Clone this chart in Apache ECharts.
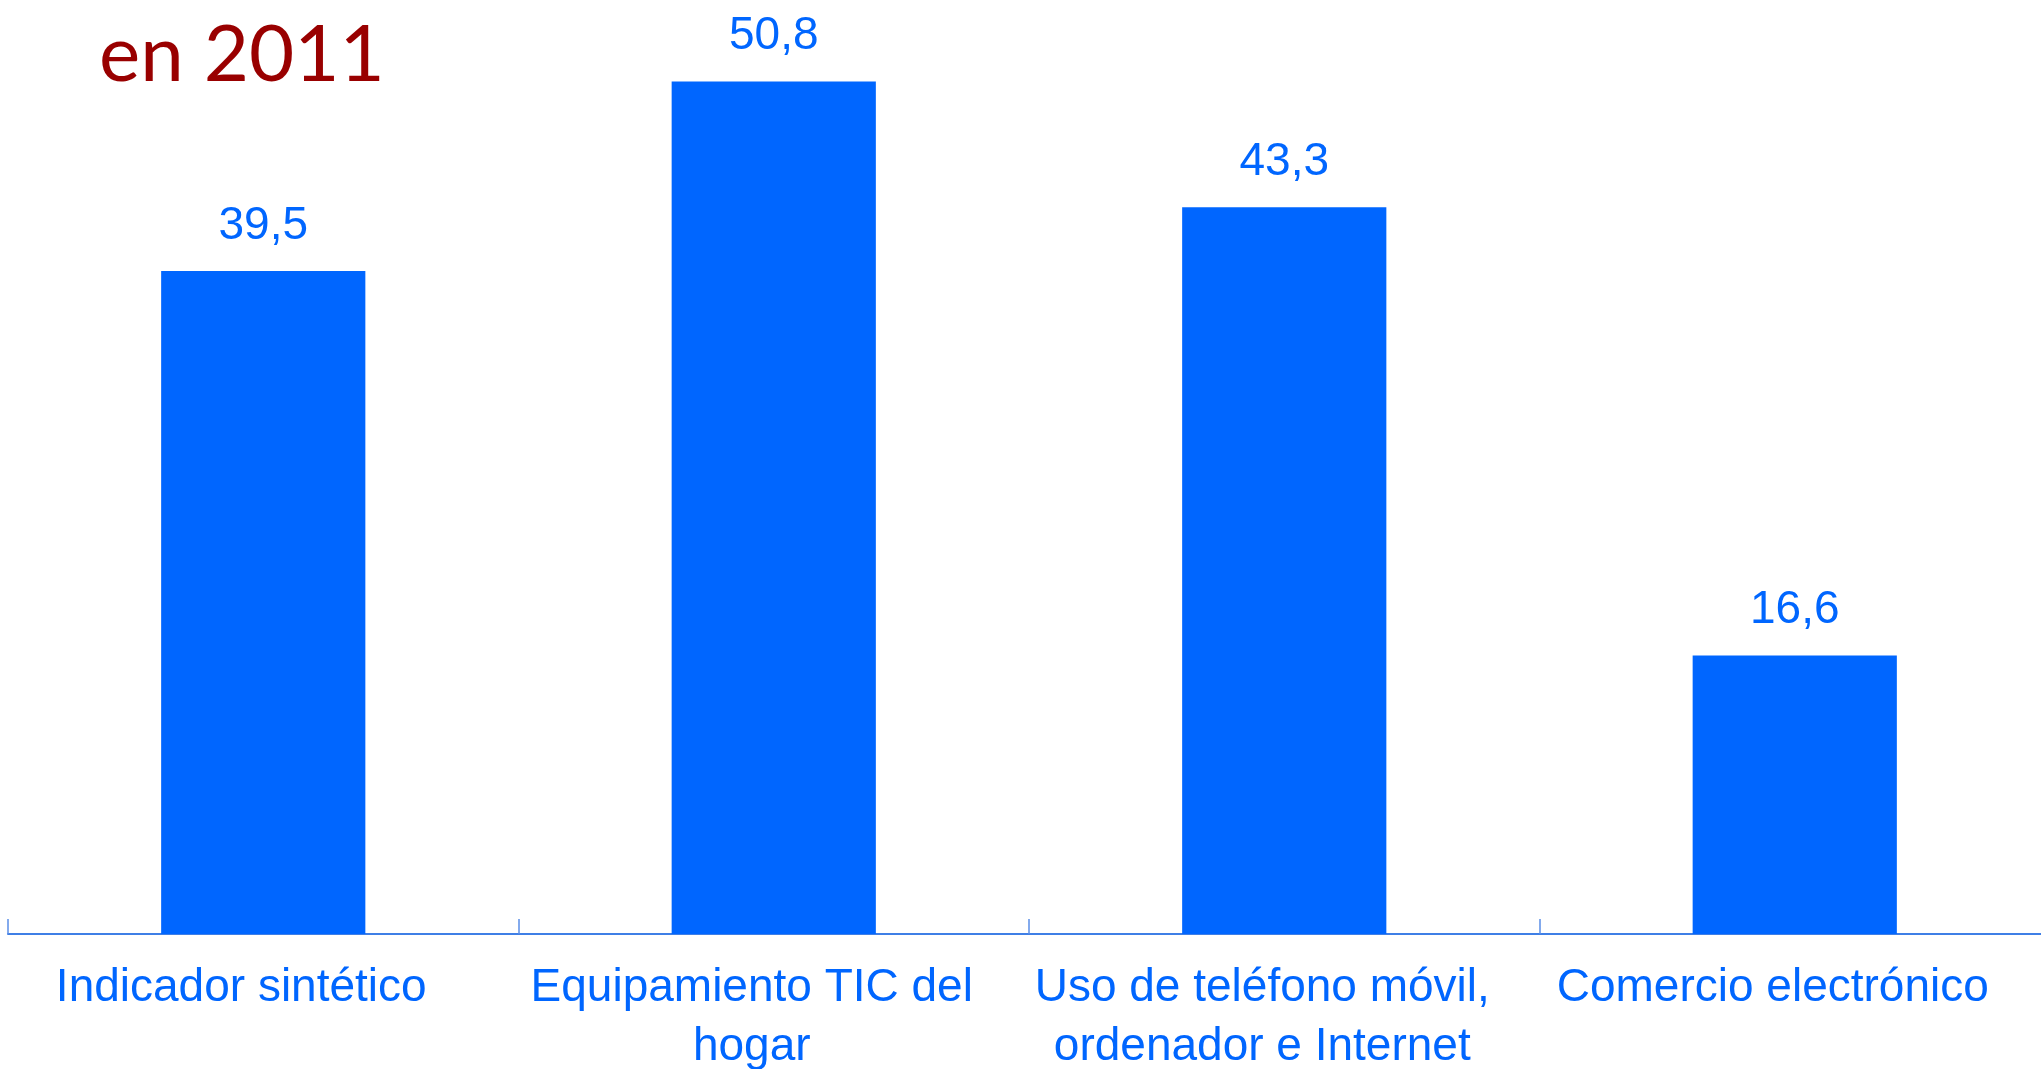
<!DOCTYPE html>
<html>
<head>
<meta charset="utf-8">
<script src="https://cdn.jsdelivr.net/npm/echarts@6/dist/echarts.min.js"></script>
<style>
html,body{margin:0;padding:0;background:#fff;}
#chart{width:2041px;height:1069px;}
</style>
</head>
<body>
<div id="chart"></div>
<script>
var titleText = 'en 2011';
var categories = [
  'Indicador sintético',
  'Equipamiento TIC del\nhogar',
  'Uso de teléfono móvil,\nordenador e Internet',
  'Comercio electrónico'
];
var values = [39.5, 50.8, 43.3, 16.6];

var chart = echarts.init(document.getElementById('chart'));
chart.setOption({
  animation: false,
  backgroundColor: '#ffffff',
  title: {
    text: titleText,
    left: 94,
    top: 12,
    textStyle: {
      fontFamily: 'Lato',
      fontWeight: 'normal',
      fontSize: 78,
      color: '#990000'
    }
  },
  grid: {
    left: 8,
    width: 2042,
    top: 11,
    bottom: 135,
    containLabel: false,
    outerBoundsMode: 'none'
  },
  xAxis: {
    type: 'category',
    data: categories,
    axisLine: { show: true, lineStyle: { color: '#3f7fe6', width: 2 } },
    axisTick: { show: true, inside: true, length: 15, lineStyle: { color: '#5b8fe8', width: 1.5 } },
    axisLabel: {
      interval: 0,
      margin: 25,
      fontFamily: 'Liberation Sans, Arial, sans-serif',
      fontSize: 46,
      lineHeight: 59,
      color: '#0066ff',
      padding: [0, 44, 0, 0]
    }
  },
  yAxis: {
    type: 'value',
    min: 0,
    max: 55,
    show: false,
    splitLine: { show: false }
  },
  series: [{
    type: 'bar',
    data: values,
    barWidth: '40%',
    itemStyle: { color: '#0066ff' },
    label: {
      show: true,
      position: 'top',
      distance: 22,
      fontFamily: 'Liberation Sans, Arial, sans-serif',
      fontSize: 46,
      color: '#0066ff',
      formatter: function (p) { return p.value.toFixed(1).replace('.', ','); }
    }
  }]
});
</script>
</body>
</html>
